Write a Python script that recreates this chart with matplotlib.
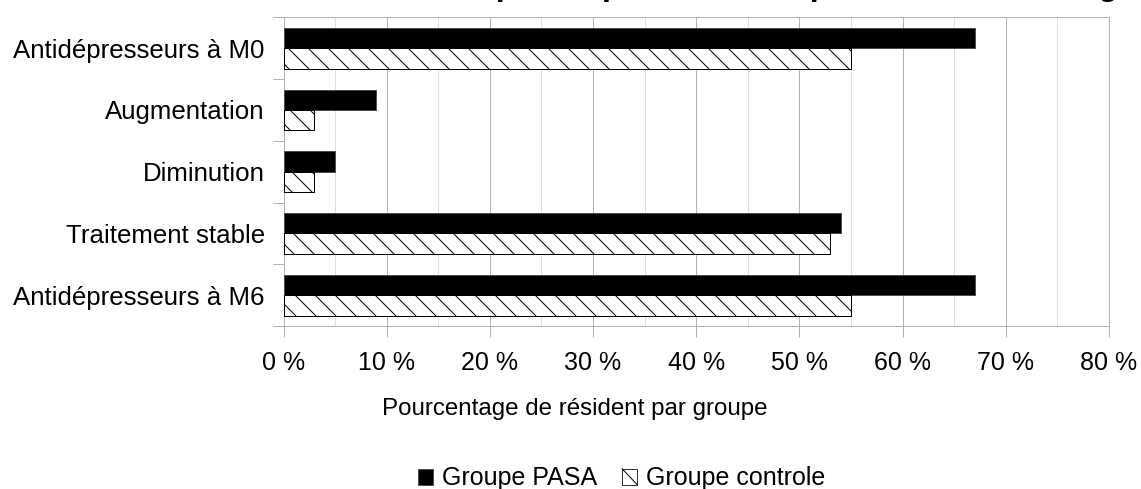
import matplotlib
matplotlib.use("Agg")
import matplotlib.pyplot as plt
import numpy as np
from matplotlib.ticker import FixedLocator, MultipleLocator, FuncFormatter
from matplotlib.legend_handler import HandlerBase
from matplotlib.patches import Rectangle
from matplotlib.lines import Line2D

# Data: percentage of residents per group
categories = ["Antidépresseurs à M0", "Augmentation", "Diminution",
              "Traitement stable", "Antidépresseurs à M6"]
groupe_pasa = [67, 9, 5, 54, 67]
groupe_controle = [55, 3, 3, 53, 55]
series_labels = ["Groupe PASA", "Groupe controle"]
x_ticks = [0, 10, 20, 30, 40, 50, 60, 70, 80]
x_label = "Pourcentage de résident par groupe"
title = "Évolution de la prescription d'antidépresseurs selon le groupe"

W, H, DPI = 1141, 489, 120
plt.rcParams["font.family"] = ["Liberation Sans", "DejaVu Sans"]
plt.rcParams["hatch.linewidth"] = 0.6


class HatchKey(HandlerBase):
    """Legend key: white square crossed by a single diagonal stroke."""

    def create_artists(self, legend, orig_handle, xdescent, ydescent,
                       width, height, fontsize, trans):
        x0, y0 = -xdescent, -ydescent
        box = Rectangle((x0, y0), width, height, facecolor="white",
                        edgecolor="#333333", linewidth=0.6, transform=trans)
        diag = Line2D([x0, x0 + width], [y0 + height, y0], color="black",
                      linewidth=0.6, transform=trans)
        return [box, diag]


fig = plt.figure(figsize=(W / DPI, H / DPI), dpi=DPI)
fig.patch.set_facecolor("white")

left, right, top, bottom = 283.5, 1109.0, 17.3, 326.0
ax = fig.add_axes([left / W, (H - bottom) / H, (right - left) / W, (bottom - top) / H])

y = np.arange(len(categories))
bar_h = 0.33
b1 = ax.barh(y - bar_h / 2, groupe_pasa, height=bar_h, color="black",
             edgecolor="#4d4d4d", linewidth=0.6, label=series_labels[0], zorder=3)
b2 = ax.barh(y + bar_h / 2, groupe_controle, height=bar_h, color="white",
             edgecolor="black", hatch="\\\\", linewidth=0.6,
             label=series_labels[1], zorder=3)

ax.set_xlim(0, 80)
ax.set_ylim(len(categories) - 0.5, -0.5)

grid_c = "#b3b3b3"
ax.xaxis.set_major_locator(FixedLocator(x_ticks))
ax.xaxis.set_minor_locator(MultipleLocator(5))
ax.xaxis.set_major_formatter(FuncFormatter(lambda v, p: f"{int(v)} %"))
ax.grid(True, axis="x", which="major", color=grid_c, linewidth=0.6, zorder=0)
ax.grid(True, axis="x", which="minor", color="#dddddd", linewidth=0.6, zorder=0)
ax.set_axisbelow(True)

ax.set_yticks(y)
ax.set_yticklabels(categories)
ax.yaxis.set_minor_locator(FixedLocator(np.arange(-0.5, len(categories), 1.0)))

ax.tick_params(axis="x", which="major", length=6.6, width=0.6, color=grid_c,
               labelsize=15, pad=8.5)
ax.tick_params(axis="x", which="minor", length=0)
ax.tick_params(axis="y", which="major", length=0, labelsize=15.5, pad=11.2)
ax.tick_params(axis="y", which="minor", length=6.6, width=0.6, color=grid_c)

for s in ax.spines.values():
    s.set_color(grid_c)
    s.set_linewidth(0.6)

fig.text(575 / W, 1 - 415 / H, x_label, ha="center", va="baseline", fontsize=14.5)

# Chart title, sitting mostly above the top edge of the canvas
fig.text(260 / W, 1 + 5.5 / H, title, ha="left", va="baseline",
         fontsize=19.1, fontweight="bold")

fs = 15
em = fs * DPI / 72
fig.legend([b1, b2], series_labels, loc="center", ncol=2, frameon=False,
           bbox_to_anchor=(621.7 / W, 1 - 478.5 / H), fontsize=fs,
           handlelength=15 / em, handleheight=15 / em,
           handletextpad=9 / em, columnspacing=25 / em, borderpad=0,
           handler_map={b2: HatchKey()})

fig.savefig("out.png", dpi=DPI)
